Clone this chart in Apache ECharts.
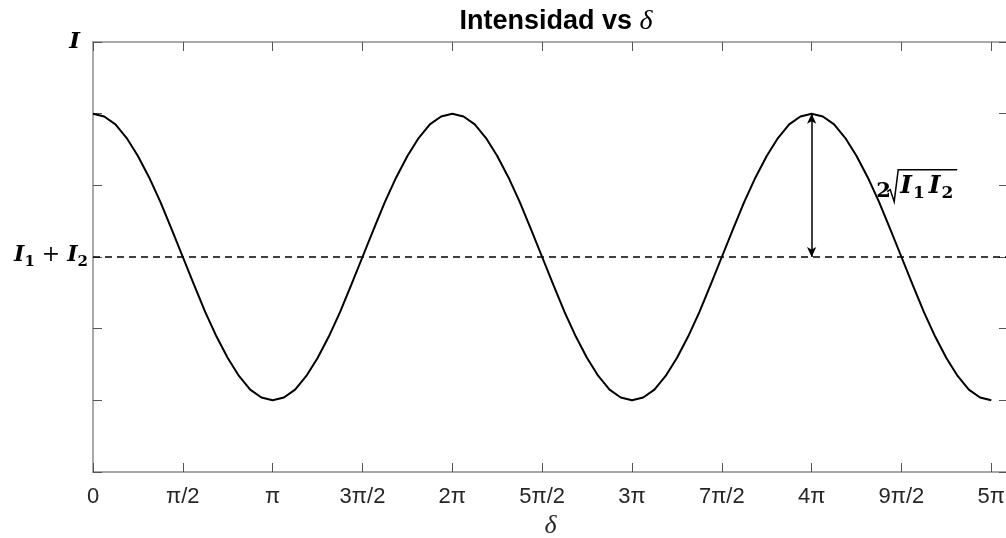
<!DOCTYPE html>
<html>
<head>
<meta charset="utf-8">
<script src="https://cdn.jsdelivr.net/npm/echarts@6/dist/echarts.min.js"></script>
<style>
  html, body { margin: 0; padding: 0; background: #fff; }
  #chart { width: 1006px; height: 538px; }
</style>
</head>
<body>
<div id="chart"></div>
<script>
// Phase difference, in units of π (steps of π/16)
const deltaPi = [
  0, 0.0625, 0.125, 0.1875, 0.25, 0.3125, 0.375, 0.4375,
  0.5, 0.5625, 0.625, 0.6875, 0.75, 0.8125, 0.875, 0.9375,
  1, 1.0625, 1.125, 1.1875, 1.25, 1.3125, 1.375, 1.4375,
  1.5, 1.5625, 1.625, 1.6875, 1.75, 1.8125, 1.875, 1.9375,
  2, 2.0625, 2.125, 2.1875, 2.25, 2.3125, 2.375, 2.4375,
  2.5, 2.5625, 2.625, 2.6875, 2.75, 2.8125, 2.875, 2.9375,
  3, 3.0625, 3.125, 3.1875, 3.25, 3.3125, 3.375, 3.4375,
  3.5, 3.5625, 3.625, 3.6875, 3.75, 3.8125, 3.875, 3.9375,
  4, 4.0625, 4.125, 4.1875, 4.25, 4.3125, 4.375, 4.4375,
  4.5, 4.5625, 4.625, 4.6875, 4.75, 4.8125, 4.875, 4.9375,
  5
];
// Intensity (arbitrary units): oscillates between 1 and 5 around 3
const intensity = [
  5, 4.96, 4.85, 4.66, 4.41, 4.11, 3.77, 3.39,
  3, 2.61, 2.23, 1.89, 1.59, 1.34, 1.15, 1.04,
  1, 1.04, 1.15, 1.34, 1.59, 1.89, 2.23, 2.61,
  3, 3.39, 3.77, 4.11, 4.41, 4.66, 4.85, 4.96,
  5, 4.96, 4.85, 4.66, 4.41, 4.11, 3.77, 3.39,
  3, 2.61, 2.23, 1.89, 1.59, 1.34, 1.15, 1.04,
  1, 1.04, 1.15, 1.34, 1.59, 1.89, 2.23, 2.61,
  3, 3.39, 3.77, 4.11, 4.41, 4.66, 4.85, 4.96,
  5, 4.96, 4.85, 4.66, 4.41, 4.11, 3.77, 3.39,
  3, 2.61, 2.23, 1.89, 1.59, 1.34, 1.15, 1.04,
  1
];
const xTickLabels = ['0', 'π/2', 'π', '3π/2', '2π', '5π/2', '3π', '7π/2', '4π', '9π/2', '5π'];
const meanLevel = 3;     // I1 + I2
const peakLevel = 5;     // I1 + I2 + 2√(I1 I2)
const arrowAtPi = 4;     // arrow drawn at δ = 4π
const xMaxPi = 16 / Math.PI;

const axisGray = '#8c8c8c';
const tickGray = '#555';
const labelColor = '#262626';
const serif = '"DejaVu Serif", "Liberation Serif", serif';
const times = '"Liberation Serif", serif';
const sans = '"Liberation Sans", Arial, sans-serif';

const chart = echarts.init(document.getElementById('chart'), null, { renderer: 'canvas' });

const xAxisCommon = {
  type: 'value', min: 0, max: xMaxPi, interval: 0.5,
  splitLine: { show: false },
  axisLine: { show: true, onZero: false, lineStyle: { color: axisGray, width: 1.5 } },
  axisTick: { show: true, inside: true, length: 9, lineStyle: { color: tickGray, width: 1 } }
};
const yAxisCommon = {
  type: 'value', min: 0, max: 6, interval: 1,
  splitLine: { show: false },
  axisLine: { show: true, onZero: false, lineStyle: { color: axisGray, width: 1.5 } },
  axisTick: { show: true, inside: true, length: 9, lineStyle: { color: tickGray, width: 1 } }
};

// Math-style labels: bold italic symbols with lowered subscripts
const mathRich = {
  m: { fontFamily: serif, fontStyle: 'italic', fontWeight: 'bold', fontSize: 22, color: '#000', verticalAlign: 'top' },
  t: { fontFamily: serif, fontStyle: 'italic', fontWeight: 'bold', fontSize: 23, color: '#000', verticalAlign: 'middle', padding: [0, 8, 0, 0] },
  p: { fontFamily: serif, fontWeight: 'normal', fontSize: 22, color: '#000', verticalAlign: 'top' },
  s: { fontFamily: serif, fontWeight: 'bold', fontSize: 15, color: '#000', verticalAlign: 'top', padding: [10, 0, 0, 0] }
};

chart.setOption({
  animation: false,
  backgroundColor: '#fff',
  title: {
    text: '{a|Intensidad vs }{b|δ}',
    left: 551, top: 3, textAlign: 'center',
    textStyle: {
      rich: {
        a: { fontFamily: sans, fontWeight: 'bold', fontSize: 27, color: '#000' },
        b: { fontFamily: times, fontStyle: 'italic', fontWeight: 'normal', fontSize: 28, color: '#000' }
      }
    }
  },
  grid: { left: 93, right: -2, top: 42, bottom: 66, containLabel: false, outerBoundsMode: 'none' },
  xAxis: [
    Object.assign({}, xAxisCommon, {
      position: 'bottom',
      name: 'δ', nameLocation: 'middle', nameGap: 41,
      nameTextStyle: { fontFamily: times, fontStyle: 'italic', fontSize: 26, color: labelColor },
      axisLabel: {
        show: true, margin: 14, fontFamily: sans, fontSize: 22, color: labelColor,
        formatter: function (v) {
          const k = Math.round(v * 2);
          return (Math.abs(v * 2 - k) < 1e-6 && k < xTickLabels.length) ? xTickLabels[k] : '';
        }
      }
    }),
    Object.assign({}, xAxisCommon, { position: 'top', axisLabel: { show: false } })
  ],
  yAxis: [
    Object.assign({}, yAxisCommon, {
      position: 'left',
      axisLabel: {
        show: true, margin: 5,
        formatter: function (v) {
          if (v === 6) return '{t|I}';
          if (v === meanLevel) return '{m|I}{s|1}{p| + }{m|I}{s|2}';
          return '';
        },
        rich: mathRich
      }
    }),
    Object.assign({}, yAxisCommon, {
      position: 'right',
      axisLine: { show: false, onZero: false },
      axisLabel: { show: false }
    })
  ],
  series: [{
    type: 'line',
    data: deltaPi.map((d, i) => [d, intensity[i]]),
    showSymbol: false,
    smooth: false,
    lineStyle: { color: '#000', width: 2 },
    markLine: {
      silent: true,
      animation: false,
      label: { show: false },
      data: [
        [
          { coord: [0, meanLevel], symbol: 'none', lineStyle: { type: [7, 5], width: 1.5, color: '#000' } },
          { coord: [xMaxPi, meanLevel], symbol: 'none' }
        ],
        [
          { coord: [arrowAtPi, meanLevel], symbol: 'arrow', symbolSize: [7, 10], lineStyle: { type: 'solid', width: 1.5, color: '#000' } },
          { coord: [arrowAtPi, peakLevel], symbol: 'arrow', symbolSize: [7, 10] }
        ]
      ]
    }
  }]
});

// Annotation "2√(I1 I2)" next to the arrow, anchored at the radicand baseline
const anchor = chart.convertToPixel({ xAxisIndex: 0, yAxisIndex: 0 }, [4.365, 3.8]);
chart.setOption({
  graphic: [{
    type: 'group',
    x: anchor[0], y: anchor[1],
    silent: true,
    children: [
      {
        type: 'text',
        x: -1, y: -8,
        style: {
          text: '2', fontFamily: serif, fontWeight: 'bold', fontSize: 21,
          fill: '#000', verticalAlign: 'middle', align: 'left'
        }
      },
      {
        type: 'polyline',
        shape: { points: [[10, -8], [13, -10], [17, 2], [21, -30], [80, -30]] },
        style: { stroke: '#000', lineWidth: 1.5, fill: null }
      },
      {
        type: 'text',
        x: 21, y: -26,
        style: {
          text: '{m|I}{s|1}{m|I}{s|2}',
          verticalAlign: 'top', align: 'left',
          rich: {
            m: { fontFamily: serif, fontStyle: 'italic', fontWeight: 'bold', fontSize: 25, fill: '#000', verticalAlign: 'top', padding: [0, 0, 0, 2] },
            s: { fontFamily: serif, fontWeight: 'bold', fontSize: 17, fill: '#000', verticalAlign: 'top', padding: [11, 2, 0, 1] }
          }
        }
      }
    ]
  }]
});
</script>
</body>
</html>
